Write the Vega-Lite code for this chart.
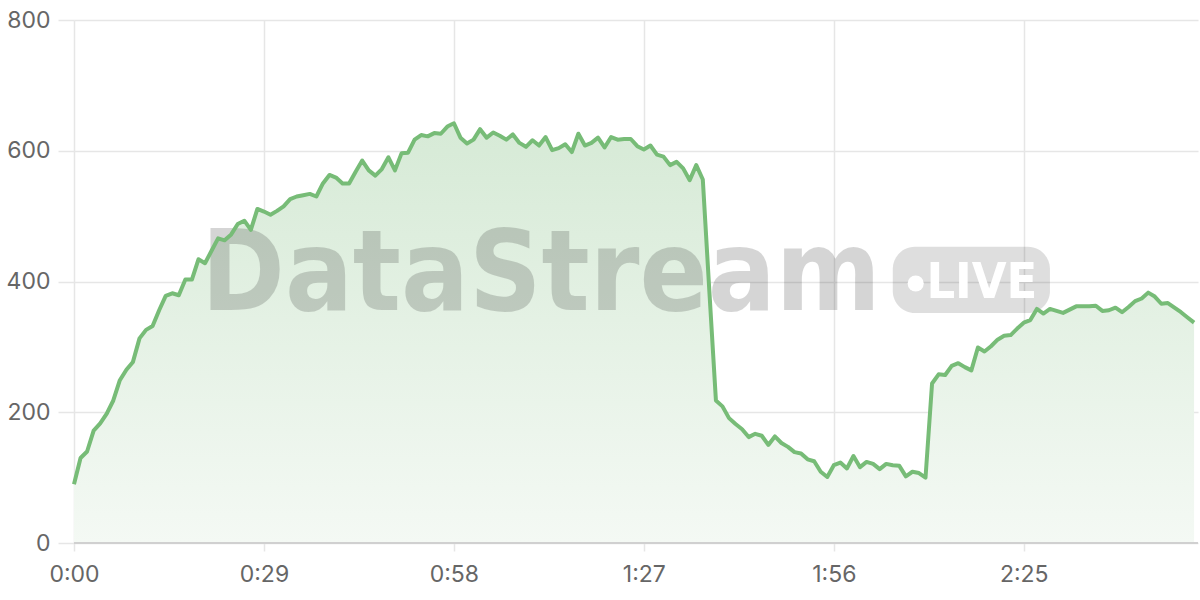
{
  "$schema": "https://vega.github.io/schema/vega-lite/v6.json",
  "width": 1124,
  "height": 523,
  "autosize": "none",
  "padding": {"left": 74, "top": 20, "right": 2, "bottom": 57},
  "background": "#ffffff",
  "config": {
    "view": {"stroke": null},
    "font": "Inter",
    "axis": {
      "labelFont": "Inter",
      "labelFontSize": 23,
      "labelColor": "#666666",
      "gridColor": "#e6e6e6",
      "gridWidth": 1.5,
      "tickColor": "#e6e6e6",
      "tickWidth": 1.5,
      "domain": false
    }
  },
  "datasets": {
    "series": [
      {"t": 0, "v": 90}, {"t": 1, "v": 130}, {"t": 2, "v": 140}, {"t": 3, "v": 172}, {"t": 4, "v": 183},
      {"t": 5, "v": 198}, {"t": 6, "v": 218}, {"t": 7, "v": 249}, {"t": 8, "v": 265}, {"t": 9, "v": 277},
      {"t": 10, "v": 313}, {"t": 11, "v": 326}, {"t": 12, "v": 332}, {"t": 13, "v": 356}, {"t": 14, "v": 378},
      {"t": 15, "v": 382}, {"t": 16, "v": 379}, {"t": 17, "v": 403}, {"t": 18, "v": 403}, {"t": 19, "v": 434},
      {"t": 20, "v": 428}, {"t": 21, "v": 447}, {"t": 22, "v": 466}, {"t": 23, "v": 463}, {"t": 24, "v": 472},
      {"t": 25, "v": 488}, {"t": 26, "v": 493}, {"t": 27, "v": 479}, {"t": 28, "v": 511}, {"t": 29, "v": 507},
      {"t": 30, "v": 502}, {"t": 31, "v": 508}, {"t": 32, "v": 515}, {"t": 33, "v": 526}, {"t": 34, "v": 530},
      {"t": 35, "v": 532}, {"t": 36, "v": 534}, {"t": 37, "v": 530}, {"t": 38, "v": 550}, {"t": 39, "v": 563},
      {"t": 40, "v": 559}, {"t": 41, "v": 550}, {"t": 42, "v": 550}, {"t": 43, "v": 568}, {"t": 44, "v": 585},
      {"t": 45, "v": 570}, {"t": 46, "v": 562}, {"t": 47, "v": 572}, {"t": 48, "v": 590}, {"t": 49, "v": 570},
      {"t": 50, "v": 596}, {"t": 51, "v": 597}, {"t": 52, "v": 617}, {"t": 53, "v": 624}, {"t": 54, "v": 622},
      {"t": 55, "v": 627}, {"t": 56, "v": 626}, {"t": 57, "v": 637}, {"t": 58, "v": 642}, {"t": 59, "v": 620},
      {"t": 60, "v": 611}, {"t": 61, "v": 617}, {"t": 62, "v": 633}, {"t": 63, "v": 620}, {"t": 64, "v": 628},
      {"t": 65, "v": 623}, {"t": 66, "v": 617}, {"t": 67, "v": 625}, {"t": 68, "v": 612}, {"t": 69, "v": 606},
      {"t": 70, "v": 616}, {"t": 71, "v": 608}, {"t": 72, "v": 621}, {"t": 73, "v": 601}, {"t": 74, "v": 604},
      {"t": 75, "v": 610}, {"t": 76, "v": 598}, {"t": 77, "v": 626}, {"t": 78, "v": 608}, {"t": 79, "v": 612},
      {"t": 80, "v": 620}, {"t": 81, "v": 605}, {"t": 82, "v": 621}, {"t": 83, "v": 617}, {"t": 84, "v": 618},
      {"t": 85, "v": 618}, {"t": 86, "v": 607}, {"t": 87, "v": 602}, {"t": 88, "v": 608}, {"t": 89, "v": 594},
      {"t": 90, "v": 591}, {"t": 91, "v": 578}, {"t": 92, "v": 583}, {"t": 93, "v": 573}, {"t": 94, "v": 555},
      {"t": 95, "v": 578}, {"t": 96, "v": 556}, {"t": 97, "v": 385}, {"t": 98, "v": 218}, {"t": 99, "v": 209},
      {"t": 100, "v": 191}, {"t": 101, "v": 182}, {"t": 102, "v": 174}, {"t": 103, "v": 162}, {"t": 104, "v": 167},
      {"t": 105, "v": 164}, {"t": 106, "v": 150}, {"t": 107, "v": 163}, {"t": 108, "v": 153}, {"t": 109, "v": 147},
      {"t": 110, "v": 139}, {"t": 111, "v": 137}, {"t": 112, "v": 128}, {"t": 113, "v": 125}, {"t": 114, "v": 109},
      {"t": 115, "v": 101}, {"t": 116, "v": 119}, {"t": 117, "v": 123}, {"t": 118, "v": 114}, {"t": 119, "v": 133},
      {"t": 120, "v": 116}, {"t": 121, "v": 124}, {"t": 122, "v": 121}, {"t": 123, "v": 113}, {"t": 124, "v": 121},
      {"t": 125, "v": 119}, {"t": 126, "v": 118}, {"t": 127, "v": 102}, {"t": 128, "v": 109}, {"t": 129, "v": 107},
      {"t": 130, "v": 100}, {"t": 131, "v": 244}, {"t": 132, "v": 258}, {"t": 133, "v": 257}, {"t": 134, "v": 271},
      {"t": 135, "v": 275}, {"t": 136, "v": 269}, {"t": 137, "v": 264}, {"t": 138, "v": 299}, {"t": 139, "v": 293},
      {"t": 140, "v": 301}, {"t": 141, "v": 311}, {"t": 142, "v": 317}, {"t": 143, "v": 318}, {"t": 144, "v": 328},
      {"t": 145, "v": 337}, {"t": 146, "v": 341}, {"t": 147, "v": 358}, {"t": 148, "v": 351}, {"t": 149, "v": 358},
      {"t": 150, "v": 355}, {"t": 151, "v": 352}, {"t": 152, "v": 357}, {"t": 153, "v": 362}, {"t": 154, "v": 362},
      {"t": 155, "v": 362}, {"t": 156, "v": 363}, {"t": 157, "v": 355}, {"t": 158, "v": 356}, {"t": 159, "v": 360},
      {"t": 160, "v": 353}, {"t": 161, "v": 361}, {"t": 162, "v": 370}, {"t": 163, "v": 374}, {"t": 164, "v": 383},
      {"t": 165, "v": 377}, {"t": 166, "v": 366}, {"t": 167, "v": 367}, {"t": 168, "v": 360}, {"t": 169, "v": 353},
      {"t": 170, "v": 345}, {"t": 171, "v": 337}
    ],
    "mark": [
      {"word": "DataStream", "badge": "LIVE", "tx": 71.3, "ty": 356, "bx1": 125, "bx2": 149, "by1": 453, "by2": 352, "dx": 128.5, "dy": 397, "lx": 138.6, "ly": 375}
    ]
  },
  "layer": [
    {
      "data": {"name": "series"},
      "mark": {
        "type": "area",
        "color": {
          "gradient": "linear",
          "x1": 0, "y1": 0, "x2": 0, "y2": 1,
          "stops": [
            {"offset": 0, "color": "#d6ead6"},
            {"offset": 1, "color": "#f4f9f4"}
          ]
        }
      },
      "encoding": {
        "x": {
          "field": "t",
          "type": "quantitative",
          "scale": {"domain": [0, 171.6], "nice": false, "zero": false},
          "axis": {
            "title": null,
            "values": [0, 29, 58, 87, 116, 145],
            "labelExpr": "floor(datum.value / 60) + ':' + (datum.value % 60 < 10 ? '0' : '') + (datum.value % 60)",
            "labelFlush": false,
            "tickSize": 8,
            "labelPadding": 12
          }
        },
        "y": {
          "field": "v",
          "type": "quantitative",
          "scale": {"domain": [0, 800], "nice": false},
          "axis": {
            "title": null,
            "values": [0, 200, 400, 600, 800],
            "tickSize": 16,
            "labelPadding": 8
          }
        }
      }
    },
    {
      "data": {"name": "mark"},
      "mark": {
        "type": "text",
        "font": "DejaVu Sans Condensed",
        "fontWeight": "bold",
        "fontSize": 112,
        "baseline": "alphabetic",
        "align": "center",
        "color": "#000000",
        "opacity": 0.16
      },
      "encoding": {
        "x": {"field": "tx", "type": "quantitative"},
        "y": {"field": "ty", "type": "quantitative"},
        "text": {"field": "word"}
      }
    },
    {
      "data": {"name": "mark"},
      "mark": {"type": "rect", "color": "#000000", "opacity": 0.13, "cornerRadius": 22},
      "encoding": {
        "x": {"field": "bx1", "type": "quantitative"},
        "x2": {"field": "bx2"},
        "y": {"field": "by1", "type": "quantitative"},
        "y2": {"field": "by2"}
      }
    },
    {
      "data": {"name": "mark"},
      "mark": {"type": "point", "filled": true, "color": "#ffffff", "opacity": 1, "size": 260},
      "encoding": {
        "x": {"field": "dx", "type": "quantitative"},
        "y": {"field": "dy", "type": "quantitative"}
      }
    },
    {
      "data": {"name": "mark"},
      "mark": {
        "type": "text",
        "font": "DejaVu Sans Condensed",
        "fontWeight": "bold",
        "fontSize": 50,
        "baseline": "alphabetic",
        "align": "center",
        "color": "#ffffff"
      },
      "encoding": {
        "x": {"field": "lx", "type": "quantitative"},
        "y": {"field": "ly", "type": "quantitative"},
        "text": {"field": "badge"}
      }
    },
    {
      "data": {"name": "series"},
      "mark": {"type": "rule", "color": "#d0d0d0", "strokeWidth": 2},
      "encoding": {"y": {"datum": 0}}
    },
    {
      "data": {"name": "series"},
      "mark": {"type": "line", "color": "#77bc77", "strokeWidth": 4, "strokeJoin": "round"},
      "encoding": {
        "x": {"field": "t", "type": "quantitative"},
        "y": {"field": "v", "type": "quantitative"}
      }
    }
  ]
}
